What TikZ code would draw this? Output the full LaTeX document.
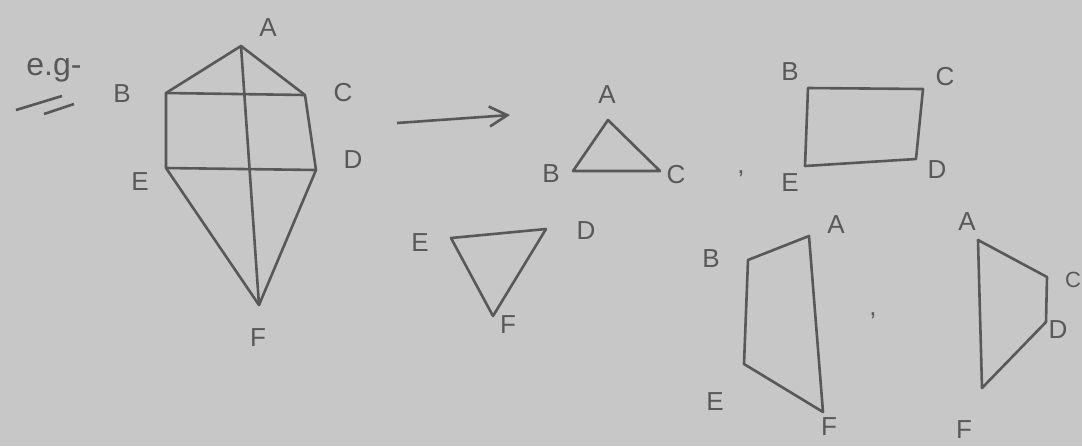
\documentclass[tikz,border=0pt]{standalone}
\usepackage{fontspec}
\setmainfont{Liberation Sans}
\usetikzlibrary{arrows.meta, positioning, calc}
\definecolor{paper}{RGB}{199,199,199}
\definecolor{pencil}{RGB}{88,88,88}

\begin{document}
\begin{tikzpicture}[x=0.5pt, y=-0.5pt, line width=1.3pt, draw=pencil, line join=round,
    lbl/.style={text=pencil, font=\fontsize{13}{13}\selectfont, inner sep=0pt},
    small/.style={text=pencil, font=\fontsize{11}{11}\selectfont, inner sep=0pt}]
    \fill[paper] (0,0) rectangle (1082,446);
    \useasboundingbox (0,0) rectangle (1082,446);

    % e.g.
    \node[lbl, font=\fontsize{16}{16}\selectfont] (eg) at (54,70) {e.g-};
    \coordinate (u1a) at (16,110); \coordinate (u1b) at (62,96);
    \coordinate (u2a) at (44,114); \coordinate (u2b) at (74,104);
    \draw (u1a) -- (u1b);
    \draw (u2a) -- (u2b);

    % the whole figure
    \coordinate (kA) at (241,46);
    \coordinate (kB) at (166,93);
    \coordinate (kC) at (305,95);
    \coordinate (kD) at (316,170);
    \coordinate (kE) at (166,168);
    \coordinate (kF) at (259,305);
    \draw (kA) -- (kC) -- (kD) -- (kF) -- (kE) -- (kB) -- cycle;
    \draw (kB) -- (kC);
    \draw (kE) -- (kD);
    \draw (kA) -- (kF);
    \node[lbl] at (268,28) {A};
    \node[lbl] at (122,94) {B};
    \node[lbl] at (343,93) {C};
    \node[lbl] at (353,160) {D};
    \node[lbl] at (140,182) {E};
    \node[lbl] at (258,338) {F};

    % arrow
    \coordinate (arS) at (397,123);
    \coordinate (arT) at (510,115);
    \draw[-{Straight Barb[length=9pt, width=10pt]}] (arS) -- (arT);

    % triangle ABC
    \coordinate (tA) at (608,120);
    \coordinate (tB) at (573,171);
    \coordinate (tC) at (660,171);
    \draw (tA) -- (tC) -- (tB) -- cycle;
    \node[lbl] at (607,95) {A};
    \node[lbl] at (551,174) {B};
    \node[lbl] at (676,175) {C};
    \node[lbl] at (741,174) {,};

    % rectangle BCDE
    \coordinate (rB) at (808,88);
    \coordinate (rC) at (923,89);
    \coordinate (rD) at (916,159);
    \coordinate (rE) at (805,166);
    \draw (rB) -- (rC) -- (rD) -- (rE) -- cycle;
    \node[lbl] at (790,72) {B};
    \node[lbl] at (945,77) {C};
    \node[lbl] at (937,170) {D};
    \node[lbl] at (790,183) {E};

    % triangle EDF
    \coordinate (sE) at (451,238);
    \coordinate (sD) at (546,229);
    \coordinate (sF) at (493,316);
    \draw (sE) -- (sD) -- (sF) -- cycle;
    \node[lbl] at (420,243) {E};
    \node[lbl] at (586,231) {D};
    \node[lbl] at (508,325) {F};

    % quadrilateral BAFE
    \coordinate (qB) at (748,260);
    \coordinate (qA) at (809,236);
    \coordinate (qF) at (823,412);
    \coordinate (qE) at (744,364);
    \draw (qB) -- (qA) -- (qF) -- (qE) -- cycle;
    \node[lbl] at (711,259) {B};
    \node[lbl] at (836,225) {A};
    \node[lbl] at (829,427) {F};
    \node[lbl] at (715,402) {E};
    \node[lbl] at (873,316) {,};

    % quadrilateral ACDF
    \coordinate (pA) at (978,240);
    \coordinate (pC) at (1047,277);
    \coordinate (pD) at (1046,322);
    \coordinate (pF) at (982,388);
    \draw (pA) -- (pC) -- (pD) -- (pF) -- cycle;
    \node[lbl] at (967,222) {A};
    \node[small] at (1073,280) {C};
    \node[lbl] at (1058,330) {D};
    \node[lbl] at (964,430) {F};
\end{tikzpicture}
\end{document}
